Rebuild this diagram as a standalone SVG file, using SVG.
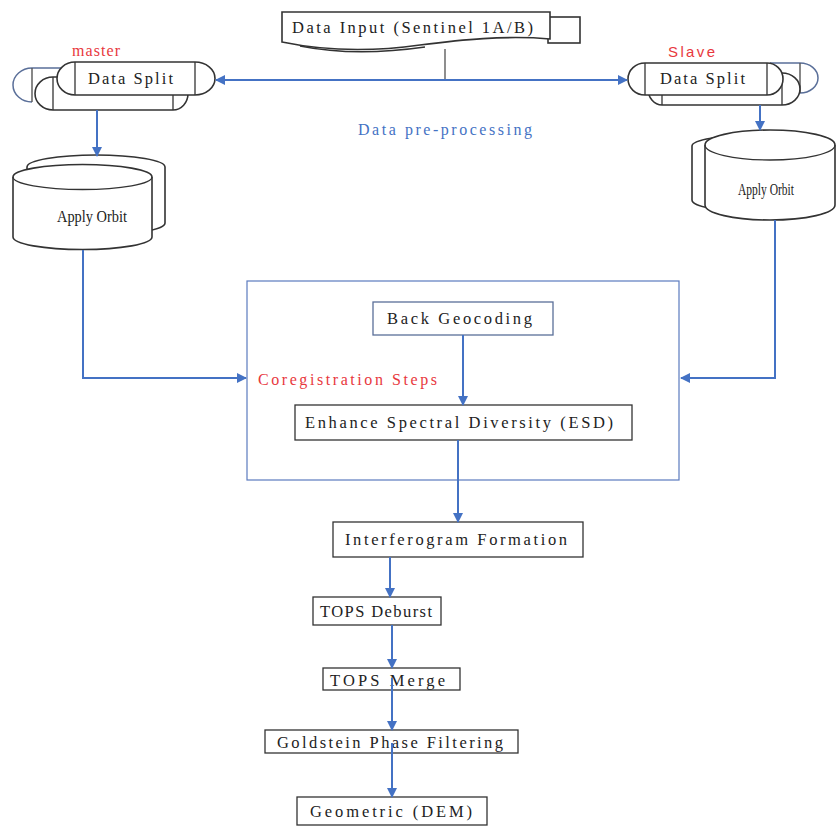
<svg xmlns="http://www.w3.org/2000/svg" width="836" height="827" viewBox="0 0 836 827">
<defs>
<marker id="ah" viewBox="0 0 10 10" refX="9" refY="5" markerWidth="10" markerHeight="10" markerUnits="userSpaceOnUse" orient="auto">
<path d="M0,0 L10,5 L0,10 Z" fill="#4472C4"/>
</marker>
<style>
.t{font-family:"Liberation Serif","Times New Roman",serif;font-size:16.5px;fill:#222;}
.red{font-family:"Liberation Serif",serif;font-size:16px;fill:#E8383D;}
.sans{font-family:"Liberation Sans",Arial,sans-serif;font-size:15px;fill:#E8383D;}
.blue{font-family:"Liberation Serif",serif;font-size:16px;fill:#4472C4;}
.sq{font-family:"Liberation Serif",serif;font-size:16px;fill:#222;}
.box{fill:#fff;stroke:#333;stroke-width:1.3;}
.shp{fill:#fff;stroke:#333;stroke-width:1.6;}
.ln{fill:none;stroke:#333;stroke-width:1.3;}
.c{fill:none;stroke:#4472C4;stroke-width:2;}
</style>
</defs>

<g id="data-input">
<rect x="548" y="17" width="32" height="26" class="shp"/>
<path d="M282,12 H550 V39 C505,35 460,40 420,45 C385,50 335,53 282,42 Z" class="shp"/>
<path d="M300,46 C345,55 390,52 425,47" class="ln"/>
<text class="t" x="292" y="33" textLength="241" lengthAdjust="spacing">Data Input (Sentinel 1A/B)</text>
</g>

<g id="split-master">
<path d="M62,68 H32 A19,17 0 0 0 32,102" fill="none" stroke="#5a6f99" stroke-width="1.5"/>
<line x1="32" y1="68" x2="32" y2="102" stroke="#555" stroke-width="1.4"/>
<path d="M53,77 H173 A15,16.5 0 0 1 173,110 H53 A18,16.5 0 0 1 53,77 Z" class="shp"/>
<line x1="53" y1="77" x2="53" y2="110" class="ln"/>
<line x1="173" y1="77" x2="173" y2="110" class="ln"/>
<path d="M75,62 H195 A20,16.5 0 0 1 195,95 H75 A18,16.5 0 0 1 75,62 Z" class="shp"/>
<line x1="75" y1="62" x2="75" y2="95" class="ln"/>
<line x1="195" y1="62" x2="195" y2="95" class="ln"/>
<text class="t" x="88" y="84" textLength="85" lengthAdjust="spacing">Data Split</text>
<text class="red" x="72" y="56" textLength="48" lengthAdjust="spacing">master</text>
</g>

<g id="split-slave">
<path d="M770,63 H800 A18,15 0 0 1 800,93" fill="none" stroke="#5a6f99" stroke-width="1.5"/>
<line x1="800" y1="63" x2="800" y2="93" stroke="#555" stroke-width="1.4"/>
<path d="M662,73 H782 A18,16 0 0 1 782,105 H662 A14,16 0 0 1 662,73 Z" class="shp"/>
<line x1="662" y1="73" x2="662" y2="105" class="ln"/>
<line x1="782" y1="73" x2="782" y2="105" class="ln"/>
<path d="M645,63 H767 A16,16 0 0 1 767,95 H645 A17,16 0 0 1 645,63 Z" class="shp"/>
<line x1="645" y1="63" x2="645" y2="95" class="ln"/>
<line x1="767" y1="63" x2="767" y2="95" class="ln"/>
<text class="t" x="660" y="84" textLength="85" lengthAdjust="spacing">Data Split</text>
<text class="sans" x="668" y="57" textLength="47" lengthAdjust="spacing">Slave</text>
</g>

<g id="orbit-master">
<path d="M27,167 A69,12 0 0 1 165,167 V223 A69,12 0 0 1 27,223 Z" class="shp"/>
<path d="M13,177 A69.5,12.5 0 0 1 152,177 V237 A69.5,12.5 0 0 1 13,237 Z" class="shp"/>
<path d="M13,177 A69.5,12.5 0 0 0 152,177" class="ln"/>
<text class="sq" x="57" y="222" textLength="70" lengthAdjust="spacingAndGlyphs">Apply Orbit</text>
</g>

<g id="orbit-slave">
<path d="M692,146 A65,11 0 0 1 822,146 V200 A65,12 0 0 1 692,200 Z" class="shp"/>
<path d="M705,145 A65,15 0 0 1 835,145 V205 A65,15 0 0 1 705,205 Z" class="shp"/>
<path d="M705,145 A65,15 0 0 0 835,145" class="ln"/>
<text class="sq" x="738" y="195" textLength="56" lengthAdjust="spacingAndGlyphs">Apply Orbit</text>
</g>

<text class="blue" x="358" y="135" textLength="174" lengthAdjust="spacing">Data pre-processing</text>

<g id="coregistration">
<rect x="247" y="281" width="432" height="199" fill="none" stroke="#5b7bbf" stroke-width="1.2"/>
<text class="red" x="258" y="385" textLength="179" lengthAdjust="spacing">Coregistration Steps</text>
</g>

<g id="back-geocoding">
<rect x="373" y="302" width="180" height="33" fill="#fff" stroke="#5a6f99" stroke-width="1.3"/>
<text class="t" x="387" y="324" textLength="145" lengthAdjust="spacing">Back Geocoding</text>
</g>

<g id="esd">
<rect x="295" y="405" width="337" height="35" class="box"/>
<text class="t" x="305" y="428" textLength="308" lengthAdjust="spacing">Enhance Spectral Diversity (ESD)</text>
</g>

<g id="interferogram">
<rect x="333" y="522" width="250" height="35" class="box"/>
<text class="t" x="345" y="545" textLength="222" lengthAdjust="spacing">Interferogram Formation</text>
</g>

<g id="deburst">
<rect x="313" y="597" width="128" height="28" class="box"/>
<text class="t" x="320" y="617" textLength="112" lengthAdjust="spacing">TOPS Deburst</text>
</g>

<g id="merge">
<rect x="323" y="668" width="137" height="22" class="box"/>
<text class="t" x="330" y="686" textLength="115" lengthAdjust="spacing">TOPS Merge</text>
</g>

<g id="goldstein">
<rect x="265" y="730" width="253" height="23" class="box"/>
<text class="t" x="277" y="748" textLength="226" lengthAdjust="spacing">Goldstein Phase Filtering</text>
</g>

<g id="geometric">
<rect x="297" y="797" width="190" height="28" class="box"/>
<text class="t" x="310" y="817" textLength="162" lengthAdjust="spacing">Geometric (DEM)</text>
</g>

<g id="connectors">
<line x1="445" y1="49" x2="445" y2="80" stroke="#444" stroke-width="1.2"/>
<line x1="445" y1="80" x2="216" y2="80" class="c" marker-end="url(#ah)"/>
<line x1="445" y1="80" x2="627" y2="80" class="c" marker-end="url(#ah)"/>
<line x1="97" y1="110" x2="97" y2="156" class="c" marker-end="url(#ah)"/>
<line x1="760" y1="105" x2="760" y2="130" class="c" marker-end="url(#ah)"/>
<polyline points="83,250 83,378 246,378" class="c" marker-end="url(#ah)" stroke-width="1.3"/>
<polyline points="775,220 775,378 681,378" class="c" marker-end="url(#ah)"/>
<line x1="463" y1="335" x2="463" y2="405" class="c" marker-end="url(#ah)"/>
<line x1="458" y1="440" x2="458" y2="522" class="c" marker-end="url(#ah)"/>
<line x1="390" y1="557" x2="390" y2="597" class="c" marker-end="url(#ah)"/>
<line x1="392" y1="625" x2="392" y2="668" class="c" marker-end="url(#ah)"/>
<line x1="392" y1="678" x2="392" y2="730" class="c" marker-end="url(#ah)"/>
<line x1="392" y1="743" x2="392" y2="797" class="c" marker-end="url(#ah)"/>
</g>
</svg>
